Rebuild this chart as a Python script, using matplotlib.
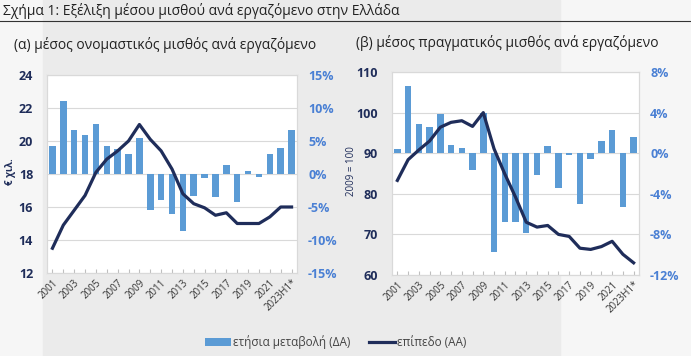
import numpy as np
import matplotlib
matplotlib.use('Agg')
import matplotlib.pyplot as plt
from matplotlib.patches import Rectangle, Patch
from matplotlib.lines import Line2D

plt.rcParams['font.family'] = ['Open Sans', 'DejaVu Sans']

years = ['2001', '2002', '2003', '2004', '2005', '2006', '2007', '2008', '2009', '2010',
         '2011', '2012', '2013', '2014', '2015', '2016', '2017', '2018', '2019', '2020',
         '2021', '2022', '2023H1*']
tick_labels = [y if i % 2 == 0 else '' for i, y in enumerate(years)]

# (a) nominal wage per employee
nom_level = [13.5, 14.9, 15.8, 16.7, 18.1, 18.9, 19.4, 20.0, 21.0, 20.1,
             19.4, 18.3, 16.8, 16.2, 15.95, 15.5, 15.65, 15.0, 15.0, 15.0,
             15.4, 16.0, 16.0]
nom_change = [4.3, 11.1, 6.7, 5.9, 7.6, 4.3, 3.8, 3.0, 5.5, -5.4,
              -4.0, -6.0, -8.7, -3.4, -0.6, -3.5, 1.4, -4.3, 0.5, -0.4,
              3.0, 4.0, 6.7]

# (b) real wage per employee, 2009 = 100
real_level = [83.3, 88.4, 90.8, 93.0, 96.4, 97.6, 98.0, 96.6, 100.0, 91.1,
              84.9, 79.2, 73.0, 71.8, 72.2, 70.0, 69.5, 66.6, 66.3, 67.0,
              68.3, 65.1, 63.0]
real_change = [0.4, 6.6, 2.9, 2.6, 3.9, 0.8, 0.5, -1.7, 4.0, -9.7,
               -6.8, -6.8, -7.9, -2.1, 0.75, -3.4, -0.2, -5.0, -0.55, 1.2,
               2.3, -5.3, 1.55]

W, H = 691, 356
BAR = '#5b9bd5'
NAVY = '#1f2d5a'
BLUE_TXT = '#4a80d4'

fig = plt.figure(figsize=(W / 100, H / 100), dpi=100, facecolor='#f6f6f6')
bg = Rectangle((43 / W, 0), (560 - 43) / W, 1, transform=fig.transFigure,
               color='#ebebeb', zorder=-10)
fig.add_artist(bg)

fig.text(3 / W, 1 - 11 / H, 'Σχήμα 1: Εξέλιξη μέσου μισθού ανά εργαζόμενο στην Ελλάδα',
         fontsize=10, color='#222222', va='center')
fig.add_artist(Line2D([0, 1], [1 - 21 / H, 1 - 21 / H], transform=fig.transFigure,
                      color='#333333', lw=0.8))
fig.text(14 / W, 1 - 45 / H, '(α) μέσος ονομαστικός μισθός ανά εργαζόμενο',
         fontsize=10, color='#222222', va='center')
fig.text(356 / W, 1 - 43 / H, '(β) μέσος πραγματικός μισθός ανά εργαζόμενο',
         fontsize=10, color='#222222', va='center')


def panel(rect, level, change, lylim, lyticks, ryticks, ylabel, ylabel_x, lbold):
    ax2 = fig.add_axes(rect)
    ax = ax2.twinx()
    # bars on the right axis (ΔΑ), line on the left axis (ΑΑ)
    ax2.yaxis.tick_right()
    ax.yaxis.tick_left()
    x = np.arange(len(years))
    ax2.bar(x, change, width=0.6, color=BAR, zorder=2)
    ax2.set_ylim(ryticks[0], ryticks[-1])
    ax2.set_yticks(ryticks)
    ax2.set_yticklabels(['%d%%' % t for t in ryticks], color=BLUE_TXT, fontsize=9,
                        fontweight='bold')
    ax2.grid(axis='y', color='#d9d9d9', lw=0.8, zorder=0)
    ax2.set_axisbelow(True)
    ax.plot(x, level, color=NAVY, lw=2.3, solid_joinstyle='round', zorder=3)
    ax.set_ylim(*lylim)
    ax.set_yticks(lyticks)
    ax.set_yticklabels([str(t) for t in lyticks], color=NAVY, fontsize=9, fontweight='bold')
    ax.set_xlim(-0.5, len(years) - 0.5)
    ax2.set_xticks(x)
    ax2.set_xticklabels(tick_labels, rotation=45, ha='right', rotation_mode='anchor',
                        fontsize=7, color='#333333')
    ax2.tick_params(axis='x', direction='in', length=3, color='#bfbfbf', pad=3)
    ax2.tick_params(axis='y', length=0, pad=8)
    ax.tick_params(axis='y', length=0, pad=10)
    for a in (ax, ax2):
        for s in a.spines.values():
            s.set_color('#d9d9d9')
            s.set_linewidth(0.8)
    ax.patch.set_visible(False)
    ax2.set_facecolor('white')
    fig.text(ylabel_x / W, rect[1] + rect[3] * 0.51, ylabel, rotation=90, fontsize=7,
             color=NAVY, fontweight='bold' if lbold else 'normal', va='center', ha='center')
    return ax, ax2


panel([47 / W, 1 - 273 / H, 250 / W, 198 / H], nom_level, nom_change,
      (12, 24), [12, 14, 16, 18, 20, 22, 24], [-15, -10, -5, 0, 5, 10, 15],
      '€ χιλ.', 10, True)
panel([392 / W, 1 - 275 / H, 247 / W, 203 / H], real_level, real_change,
      (60, 110), [60, 70, 80, 90, 100, 110], [-12, -8, -4, 0, 4, 8],
      '2009 = 100', 351, False)

handles = [Patch(facecolor=BAR, edgecolor='none'), Line2D([], [], color=NAVY, lw=2.3)]
fig.legend(handles, ['ετήσια μεταβολή (ΔΑ)', 'επίπεδο (ΑΑ)'], loc='center',
           bbox_to_anchor=(336 / W, 1 - 342 / H), ncol=2, frameon=False, fontsize=8.5,
           labelcolor='#444444', handlelength=2.2, handletextpad=0.15, columnspacing=1.6)

fig.savefig('out.png', dpi=100, facecolor=fig.get_facecolor())
